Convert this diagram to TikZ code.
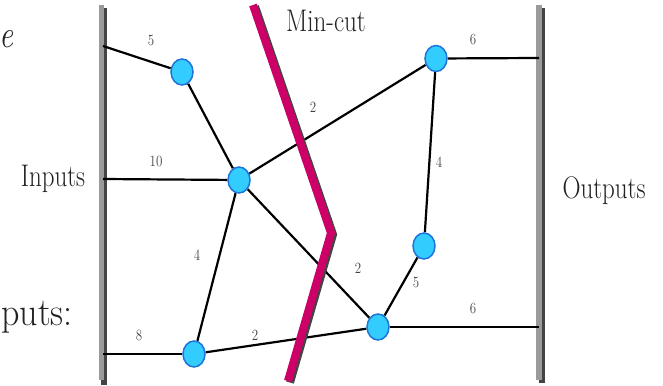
\documentclass[tikz,border=0pt]{standalone}
\usepackage{graphicx}
\usetikzlibrary{shapes.geometric,backgrounds}
\definecolor{nodefill}{HTML}{33CCFF}
\definecolor{nodeedge}{HTML}{1E74D8}
\definecolor{cutcol}{HTML}{CC0066}
\definecolor{shadowcol}{HTML}{444444}
\definecolor{barcol}{HTML}{9A9A9A}
\definecolor{labcol}{HTML}{444444}
\definecolor{txtcol}{HTML}{222222}
\tikzset{
  vtx/.style={ellipse,draw=nodeedge,fill=nodefill,line width=1.5pt,minimum width=22pt,minimum height=26pt,inner sep=0pt},
  edge/.style={draw=black,line width=2.2pt},
  wlab/.style={text=labcol,inner sep=0pt,font=\fontsize{13}{15}\selectfont},
  bigtxt/.style={text=txtcol,inner sep=0pt,font=\fontsize{25}{28}\selectfont},
  hugetxt/.style={text=txtcol,inner sep=0pt,font=\fontsize{31}{34}\selectfont}
}
\newcommand{\vs}[1]{\scalebox{1}[1.25]{#1}}
\newcommand{\vsl}[1]{\scalebox{1}[1.2]{#1}}
\begin{document}
\begin{tikzpicture}[x=1pt,y=-1pt]
\useasboundingbox (0,0) rectangle (663,385);
\clip (0,0) rectangle (663,385);
% bar anchor points
\coordinate (l1) at (103,46);
\coordinate (l2) at (103,179);
\coordinate (l3) at (103,354);
\coordinate (r1) at (539,58);
\coordinate (r2) at (539,327);
% vertices
\node[vtx] (A) at (182,72) {};
\node[vtx] (B) at (239,180) {};
\node[vtx] (C) at (194,354) {};
\node[vtx] (D) at (436,58.5) {};
\node[vtx] (E) at (424,246) {};
\node[vtx] (F) at (378,327) {};
\begin{pgfonlayer}{background}
% bars
\fill[shadowcol] (101,8) rectangle (107,385);
\fill[barcol] (99,5) rectangle (104,380);
\fill[shadowcol] (539,8) rectangle (545,383);
\fill[barcol] (536,5) rectangle (541.5,380);
% edges
\draw[edge] (l1) -- (A);
\draw[edge] (l2) -- (B);
\draw[edge] (l3) -- (C);
\draw[edge] (A) -- (B);
\draw[edge] (B) -- (C);
\draw[edge] (B) -- (D);
\draw[edge] (B) -- (F);
\draw[edge] (C) -- (F);
\draw[edge] (D) -- (E);
\draw[edge] (E) -- (F);
\draw[edge] (D) -- (r1);
\draw[edge] (F) -- (r2);
\end{pgfonlayer}
% min-cut
\coordinate (m1) at (253,5);
\coordinate (m2) at (331,233);
\coordinate (m3) at (288,381);
\draw[shadowcol,line width=8pt,line join=miter] ([shift={(2,1.5)}]m1) -- ([shift={(2,1.5)}]m2) -- ([shift={(2,1.5)}]m3);
\draw[cutcol,line width=8pt,line join=miter] (m1) -- (m2) -- (m3);
% weights
\node[wlab] (w1) at (151,40) {\vsl{5}};
\node[wlab] (w2) at (156,161) {\vsl{10}};
\node[wlab] (w3) at (139,335) {\vsl{8}};
\node[wlab] (w4) at (197,255) {\vsl{4}};
\node[wlab] (w5) at (255,335) {\vsl{2}};
\node[wlab] (w6) at (313,107) {\vsl{2}};
\node[wlab] (w7) at (358,268) {\vsl{2}};
\node[wlab] (w8) at (416,282) {\vsl{5}};
\node[wlab] (w9) at (473,308) {\vsl{6}};
\node[wlab] (w10) at (473,39) {\vsl{6}};
\node[wlab] (w11) at (439,162) {\vsl{4}};
% texts
\node[bigtxt] (mc) at (326,21) {\vs{Min-cut}};
\node[bigtxt] (inp) at (53,179) {\vs{Inputs}};
\node[bigtxt] (outp) at (604,191) {\vs{Outputs}};
\node[hugetxt,anchor=west] (ee) at (-1,39) {\vs{\itshape e}};
\node[hugetxt,anchor=base east,font=\fontsize{36}{40}\selectfont] (pu) at (73,325) {\scalebox{1}[1.1]{puts:}};
\end{tikzpicture}
\end{document}
